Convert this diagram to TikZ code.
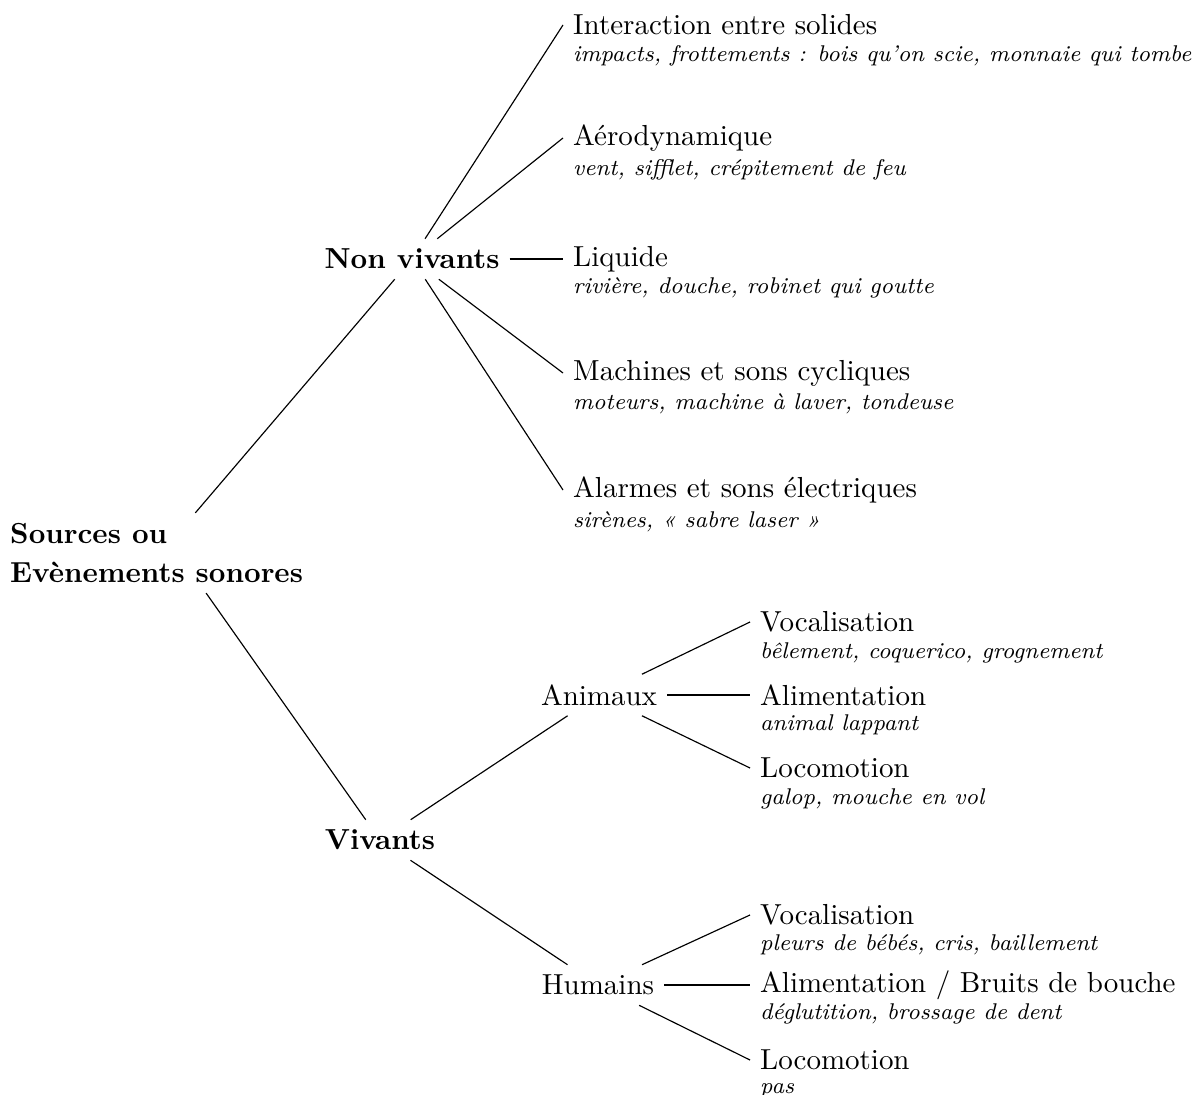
\documentclass[tikz,border=0pt]{standalone}
\usepackage{xcolor}
\usepackage{tikz}

\begin{document}
\begin{tikzpicture}[x=0.345pt, y=-0.345pt,
    cat/.style={font=\bfseries, inner sep=3.33pt},
    group/.style={inner sep=3.33pt},
    leaf/.style={anchor=west, inner sep=3.33pt},
    detail/.style={anchor=base west, inner sep=3.33pt, font=\fontsize{7.85}{9.4}\selectfont\itshape}]
    \useasboundingbox (0,0) rectangle (1197,1095);
    \node[cat, align=left, anchor=west] (root) at (0,553) {Sources ou\\[1.6pt]Evènements sonores};
    \node[cat] (nonviv) at (412,259) {Non vivants};
    \node[cat] (viv) at (380,840) {Vivants};
    \node[group] (anim) at (599,695) {Animaux};
    \node[group] (hum) at (598,985) {Humains};
    % non vivants
    \node[leaf] (solid) at (563,25) {Interaction entre solides};
    \node[detail] at ([yshift=-9.3pt]solid.base west) {impacts, frottements : bois qu’on scie, monnaie qui tombe};
    \node[leaf] (aero) at (563,138) {Aérodynamique};
    \node[detail] at ([yshift=-10.3pt]aero.base west) {vent, sifflet, crépitement de feu};
    \node[leaf] (liq) at (563,259) {Liquide};
    \node[detail] at ([yshift=-9.3pt]liq.base west) {rivière, douche, robinet qui goutte};
    \node[leaf] (mach) at (563,373) {Machines et sons cycliques};
    \node[detail] at ([yshift=-10pt]mach.base west) {moteurs, machine à laver, tondeuse};
    \node[leaf] (alarm) at (563,490) {Alarmes et sons électriques};
    \node[detail] at ([yshift=-10.3pt]alarm.base west) {sirènes, « sabre laser »};
    % animaux
    \node[leaf] (aVoc) at (750,622) {Vocalisation};
    \node[detail] at ([yshift=-9.3pt]aVoc.base west) {bêlement, coquerico, grognement};
    \node[leaf] (aAlim) at (750,695) {Alimentation};
    \node[detail] at ([yshift=-8.6pt]aAlim.base west) {animal lappant};
    \node[leaf] (aLoco) at (750,768) {Locomotion};
    \node[detail] at ([yshift=-9.3pt]aLoco.base west) {galop, mouche en vol};
    % humains
    \node[leaf] (hVoc) at (750,915) {Vocalisation};
    \node[detail] at ([yshift=-9pt]hVoc.base west) {pleurs de bébés, cris, baillement};
    \node[leaf] (hAlim) at (750,985) {Alimentation / Bruits de bouche};
    \node[detail] at ([yshift=-9.3pt]hAlim.base west) {déglutition, brossage de dent};
    \node[leaf] (hLoco) at (750,1060) {Locomotion};
    \node[detail] at ([yshift=-8.3pt]hLoco.base west) {pas};
    % branches
    \draw (root.46) -- (nonviv);
    \draw (root.-39) -- (viv);
    \draw (nonviv) -- (solid.west);
    \draw (nonviv) -- (aero.west);
    \draw (nonviv) -- (liq.west);
    \draw (nonviv) -- (mach.west);
    \draw (nonviv) -- (alarm.west);
    \draw (viv) -- (anim);
    \draw (viv) -- (hum);
    \draw (anim) -- (aVoc.west);
    \draw (anim) -- (aAlim.west);
    \draw (anim) -- (aLoco.west);
    \draw (hum) -- (hVoc.west);
    \draw (hum) -- (hAlim.west);
    \draw (hum) -- (hLoco.west);
\end{tikzpicture}
\end{document}
